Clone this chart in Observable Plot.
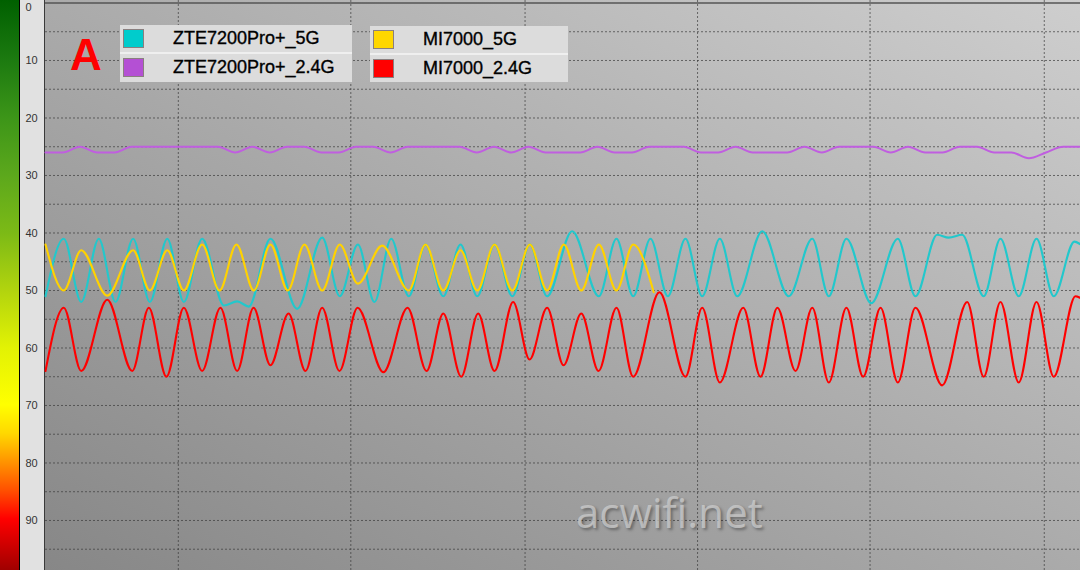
<!DOCTYPE html>
<html><head><meta charset="utf-8">
<script src="https://cdn.jsdelivr.net/npm/d3@7"></script>
<script src="https://cdn.jsdelivr.net/npm/@observablehq/plot@0.6"></script>
<style>
html,body{margin:0;padding:0;background:#fff;}
#wrap{position:relative;width:1080px;height:570px;overflow:hidden;font-family:"Liberation Sans",Arial,sans-serif;}
#bar{position:absolute;left:0;top:0;width:19px;height:570px;border-right:1px solid #000;
 background:linear-gradient(to bottom,#006000 0%,#1c7a10 10.5%,#3c9518 20.5%,#5ca81c 30.7%,#7cba16 40.9%,#b2d40e 51%,#e2f204 61%,#ffff00 71%,#ffd800 76%,#ff9400 81%,#ff5000 86%,#ff0000 91%,#a00000 100%);}
#panel{position:absolute;left:20px;top:0;width:24px;height:570px;background:#e1e1e1;border-right:1px solid #3a3a3a;}
#bg{position:absolute;left:45px;top:0;width:1035px;height:570px;background:linear-gradient(to top right,#878787,#cecece);}
#chart{position:absolute;left:0;top:0;}
.box{position:absolute;background:#efefef;}
.row{position:absolute;left:0;right:0;background:#dcdcdc;}
.sw{position:absolute;left:3px;top:4px;width:19px;height:17px;border:1.5px solid #8a7f7f;}
.lt{position:absolute;left:53px;top:3px;font-size:18px;line-height:21px;color:#000;white-space:nowrap;-webkit-text-stroke:0.35px #000;}
#A{position:absolute;left:70px;top:33px;font-size:44px;line-height:44px;font-weight:bold;color:#ff0000;}
#wm{position:absolute;left:576px;top:491px;font-family:"Open Sans",sans-serif;font-size:42px;line-height:42px;color:rgba(205,205,205,0.75);text-shadow:2px 2px 3px rgba(0,0,0,0.35);}
</style></head>
<body>
<div id="wrap">
  <div id="bar"></div>
  <div id="panel"></div>
  <div id="bg"></div>
  <div id="chart"></div>
  <div id="A">A</div>
  <div class="box" id="leg1" style="left:120px;top:25px;width:232px;height:57px;"></div>
  <div class="box" id="leg2" style="left:370px;top:26px;width:198px;height:56px;"></div>
  <div id="wm">acwifi.net</div>
</div>
<script>
// ---- data ----
const seriesNames = ["ZTE7200Pro+_5G", "ZTE7200Pro+_2.4G", "MI7000_5G", "MI7000_2.4G"];
const seriesColors = ["#22c8cc", "#c05ee0", "#ffd200", "#ff0000"];
const swatchColors = ["#00cccc", "#b450d4", "#ffd700", "#ff0000"];

const yTicks = [0, 10, 20, 30, 40, 50, 60, 70, 80, 90];
const yGrid = [5, 10, 15, 20, 25, 30, 35, 40, 45, 50, 55, 60, 65, 70, 75, 80, 85, 90, 95];
const xGrid = [7.7, 17.7, 27.8, 37.8, 47.8, 57.9];

// ZTE7200Pro+_5G (time in samples, value)
const cyanT = [0,1.06,2.07,3.09,4.06,5.08,6.05,7.06,8.02,9.08,10.34,11.11,11.79,13.04,14.59,16.04,17.06,18.11,19.07,20.04,21.06,22.03,23.06,24.06,25.03,26.03,27.06,28.08,29.08,30.53,32.08,33.1,34.07,35.07,36.08,37.1,38.07,39.09,40.1,41.55,43.09,44.45,45.41,46.43,47.87,49.41,50.43,51.69,52.36,53.14,54.39,55.36,56.42,57.45,58.45,59.65,60];
const cyanV = [51,41,52,41,52,41,52,41,52,41,52.6,51.9,52.8,41,53.2,40.8,51,42,52,41,51,42,51,42,51,42,51,42,51,39.7,51,41,51,41,51,41,51,41,51,39.7,51,41,51,41,52.2,41,51,40.3,40.8,40.3,51,41,51,41,51,41.5,42];

// ZTE7200Pro+_2.4G (one value per sample)
const purpleV = [26,26,25,26,26,25,25,25,25,25,
                 25,26,25,26,25,25,26,26,25,25,
                 26,25,25,25,25,26,25,26,25,26,
                 26,26,25,26,26,25,25,25,26,26,
                 25,26,26,26,25,26,25,25,25,26,
                 25,26,26,25,25,26,26,27,26,25,25];

// MI7000_5G
const yellowT = [0,1.06,2.07,3.58,5.08,6.05,7.06,8.02,9.08,10.09,11.07,12.08,13.04,14.05,15.01,16.04,17.06,18.11,19.52,21.06,22.03,23.06,24.06,25.03,26.03,27.06,28.08,29.08,30.05,31.06,32.08,33.1,34.07,35.26];
const yellowV = [42,50,43,50.9,43,50,43,50,42,50,42,50,42,50,42,50,42,48.8,42.2,50,42,50,43,50,42,50,42,50,42,50,42,50,42,50.3];

// MI7000_2.4G
const redT = [0,1.06,2.07,3.58,5.03,5.99,7.01,8.02,9.08,10.14,11.11,12.06,13.04,14.09,15.07,16.04,17.04,18.09,19.59,20.99,22.09,23.06,24.1,25.08,26.03,27.11,28.06,29.08,30.03,31.06,32.06,33.1,34.07,35.59,37.1,38.07,39.09,40.45,41.45,42.43,43.48,44.45,45.41,46.43,47.4,48.41,49.41,50.43,51.98,53.43,54.39,55.36,56.42,57.45,58.45,59.71,60];
const redV = [64,53,64,51.6,64,53,65,53,64,53,64,53,63,54,64,53,64,53,64.2,53,64,54,65,54,64,52,62,53,63,54,64,53,65,50.3,65,53,66,53,65,53,64,53,66,53,65,53,66,53,66.5,52,65,52,66,52,65,51,51.3];

// ---- build tables ----
const toRows = (T, V) => T.map((t, i) => ({t, v: V[i]}));
const cyan = toRows(cyanT, cyanV);
const purple = purpleV.map((v, i) => ({t: i, v}));
const yellow = toRows(yellowT, yellowV);
const red = toRows(redT, redV);

const lineOpts = (c) => ({x: "t", y: "v", stroke: c, strokeWidth: 2.1, curve: "monotone-x"});
const tickText = {text: d => String(d), frameAnchor: "left", dx: -20, textAnchor: "start", fontSize: 11, fill: "#333"};

const chart = Plot.plot({
  width: 1080, height: 570,
  marginLeft: 45, marginRight: 0, marginTop: 0, marginBottom: 0,
  style: {background: "transparent", overflow: "visible", fontFamily: "'Liberation Sans', Arial, sans-serif"},
  x: {domain: [0, 60], range: [45, 1080], axis: null},
  y: {domain: [0, 98.7], range: [2.5, 570], axis: null},
  marks: [
    Plot.ruleY(yGrid, {stroke: "#3c3c3c", strokeOpacity: 0.7, strokeDasharray: "2,2", strokeWidth: 1}),
    Plot.ruleX(xGrid, {stroke: "#3c3c3c", strokeOpacity: 0.7, strokeDasharray: "2,2", strokeWidth: 1}),
    Plot.ruleY([0], {stroke: "#555", strokeWidth: 1.5}),
    Plot.text(yTicks.slice(0, 1), {...tickText, y: d => d, dy: 4}),
    Plot.text(yTicks.slice(1), {...tickText, y: d => d}),
    Plot.line(cyan, lineOpts(seriesColors[0])),
    Plot.line(purple, lineOpts(seriesColors[1])),
    Plot.line(yellow, lineOpts(seriesColors[2])),
    Plot.line(red, lineOpts(seriesColors[3]))
  ]
});
document.getElementById("chart").appendChild(chart);

// ---- legend boxes ----
function fillLegend(id, idxs) {
  const box = document.getElementById(id);
  const h = box.clientHeight;
  idxs.forEach((k, j) => {
    const row = document.createElement("div");
    row.className = "row";
    row.style.top = (j === 0 ? 0 : 29) + "px";
    row.style.height = (j === 0 ? 27 : h - 29) + "px";
    const sw = document.createElement("div");
    sw.className = "sw";
    sw.style.background = swatchColors[k];
    const lt = document.createElement("div");
    lt.className = "lt";
    lt.textContent = seriesNames[k];
    row.appendChild(sw);
    row.appendChild(lt);
    box.appendChild(row);
  });
}
fillLegend("leg1", [0, 1]);
fillLegend("leg2", [2, 3]);
</script>
</body></html>
